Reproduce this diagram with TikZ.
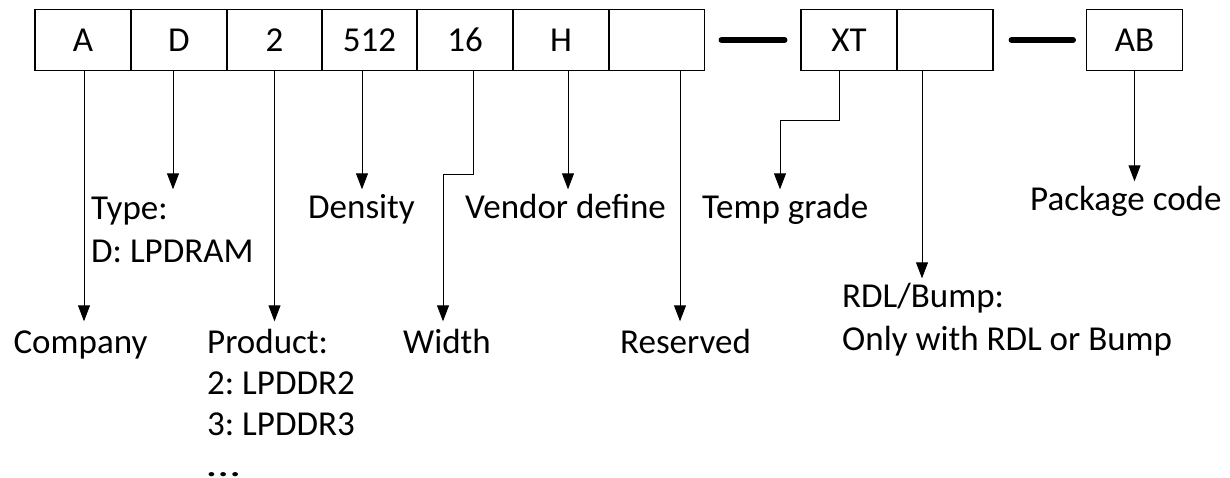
\documentclass[tikz,border=0pt]{standalone}
\usepackage{fontspec}
\setmainfont{Carlito}
\frenchspacing
\usetikzlibrary{arrows.meta}
\begin{document}
\begin{tikzpicture}[x=1pt,y=-1pt,
  cell/.style={draw,line width=1.6pt,minimum width=96pt,minimum height=61pt,inner sep=0pt,font=\fontsize{35}{43}\selectfont},
  lbl/.style={anchor=base west,inner sep=0pt,align=left,font=\fontsize{35}{43}\selectfont},
  arr/.style={line width=0.9pt,-{Triangle[length=16pt,width=12pt]}},
  bar/.style={line width=5.5pt,line cap=round}]
\useasboundingbox (0,0) rectangle (1230,477);
\node[cell] (cA) at (83,40) {A};
\node[cell] (cD) at (179,40) {D};
\node[cell] (c2) at (274.5,40) {2};
\node[cell] (c512) at (369.5,40) {512};
\node[cell] (c16) at (465,40) {16};
\node[cell] (cH) at (561,40) {H};
\node[cell] (cR) at (656.5,40) {};
\node[cell] (cXT) at (849,40) {XT};
\node[cell] (cB) at (945,40) {};
\node[cell] (cAB) at (1134.5,40) {AB};
\draw[bar,shorten <=16pt,shorten >=15.5pt] (cR.east) -- (cXT.west);
\draw[bar,shorten <=17.5pt,shorten >=12.5pt] (cB.east) -- (cAB.west);
\node[lbl,anchor=base] (company) at (80.5,353) {Company};
\node[lbl] (type) at (91,262) {Type:\\D: LPDRAM};
\node[lbl,font=\fontsize{35}{41}\selectfont] (product) at (207,476) {Product:\\2: LPDDR2\\3: LPDDR3\\\scalebox{1.35}[1]{…}};
\node[lbl] (density) at (308,218) {Density};
\node[lbl] (width) at (403,353) {Width};
\node[lbl] (vendor) at (465,218) {Vendor define};
\node[lbl] (reserved) at (620,353) {Reserved};
\node[lbl] (temp) at (702,218) {Temp grade};
\node[lbl] (rdl) at (842,350) {RDL/Bump:\\Only with RDL or Bump};
\node[lbl] (package) at (1030,210) {Package code};
\draw[arr] ([xshift=1pt]cA.south) -- ++(0,250);
\draw[arr] ([xshift=-6pt]cD.south) -- ++(0,118);
\draw[arr] (c2.south) -- ++(0,250);
\draw[arr] ([xshift=-7.5pt]c512.south) -- ++(0,118);
\draw[arr] ([xshift=8pt]c16.south) -- ++(0,103) -- ++(-30,0) -- ++(0,147);
\draw[arr] ([xshift=7pt]cH.south) -- ++(0,118);
\draw[arr] ([xshift=23.5pt]cR.south) -- ++(0,250);
\draw[arr] ([xshift=-10pt]cXT.south) -- ++(0,49) -- ++(-59,0) -- ++(0,69);
\draw[arr] ([xshift=-23pt]cB.south) -- ++(0,207);
\draw[arr] (cAB.south) -- ++(0,110);
\end{tikzpicture}
\end{document}
